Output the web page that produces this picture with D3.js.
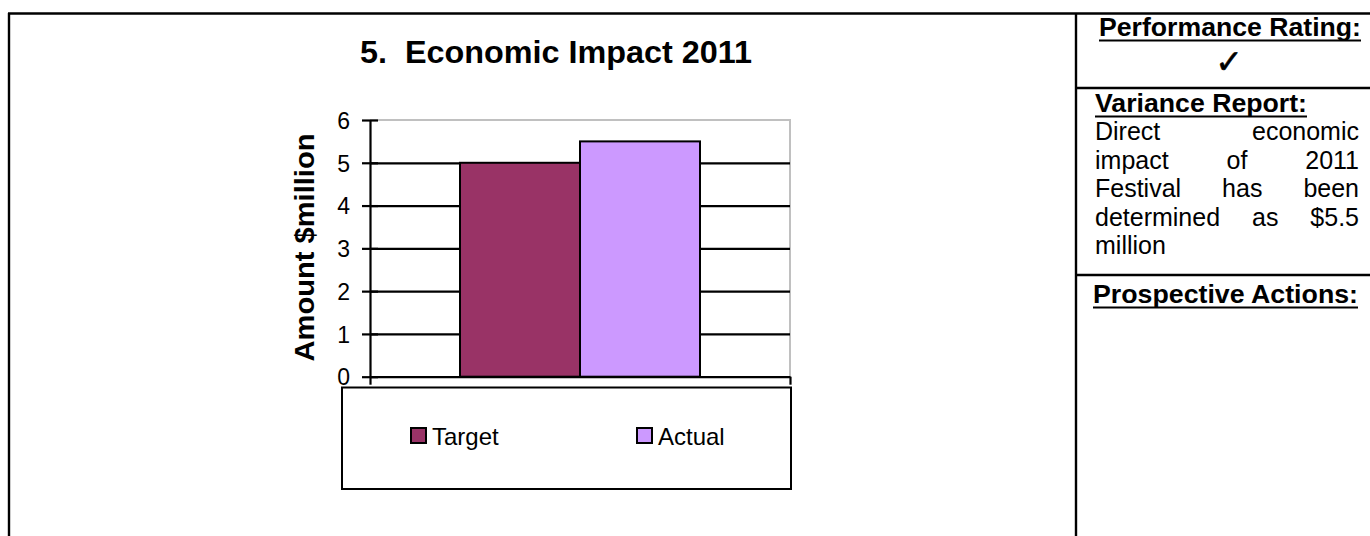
<!DOCTYPE html>
<html>
<head>
<meta charset="utf-8">
<script src="https://cdn.jsdelivr.net/npm/d3@7"></script>
<style>
  body { margin: 0; background: #fff; }
  text { font-family: "Liberation Sans", Arial, sans-serif; fill: #000; }
</style>
</head>
<body>
<div class="sheet"></div>
<script>
// chart data
var categories = ["2011"];
var seriesNames = ["Target", "Actual"];
var seriesValues = [5, 5.5];
var seriesColors = ["#993366", "#CC99FF"];
var yTicks = [0, 1, 2, 3, 4, 5, 6];

// side panel text
var ratingTitle = "Performance Rating:";
var ratingMark = "\u2713";
var varianceTitle = "Variance Report:";
var varianceLines = ["Direct economic", "impact of 2011", "Festival has been", "determined as $5.5", "million"];
var actionsTitle = "Prospective Actions:";

var svgWidth = 1370;
var svgHeight = 536;

var plot = { left: 370, right: 790, top: 120, bottom: 376.7 };

var svg = d3.select(".sheet")
    .append("svg")
    .attr("width", svgWidth)
    .attr("height", svgHeight);

svg.append("rect").attr("width", svgWidth).attr("height", svgHeight).attr("fill", "#fff");

// table frame
var frame = svg.append("g").attr("stroke", "#000").attr("stroke-width", 2.4);
frame.append("line").attr("x1", 8).attr("x2", svgWidth).attr("y1", 13.5).attr("y2", 13.5);
frame.append("line").attr("x1", 9).attr("x2", 9).attr("y1", 13).attr("y2", svgHeight);
frame.append("line").attr("x1", 1076).attr("x2", 1076).attr("y1", 13).attr("y2", svgHeight);
frame.append("line").attr("x1", 1076).attr("x2", svgWidth).attr("y1", 88).attr("y2", 88);
frame.append("line").attr("x1", 1076).attr("x2", svgWidth).attr("y1", 275).attr("y2", 275);

// title
svg.append("text")
    .attr("x", 360)
    .attr("y", 63)
    .attr("font-size", 31)
    .attr("font-weight", "bold")
    .attr("textLength", 392)
    .attr("lengthAdjust", "spacingAndGlyphs")
    .style("white-space", "pre")
    .text("5.  Economic Impact 2011");

// scales
var yScale = d3.scaleLinear().domain([0, 6]).range([plot.bottom, plot.top]);
var x0 = d3.scaleBand().domain(categories).range([plot.left, plot.right])
    .paddingInner(0).paddingOuter(0.375);
var x1 = d3.scaleBand().domain(seriesNames).range([0, x0.bandwidth()]);

// plot border (grey top and right)
svg.append("path")
    .attr("d", `M${plot.left},${plot.top}H${plot.right}V${plot.bottom}`)
    .attr("fill", "none")
    .attr("stroke", "#c0c0c0")
    .attr("stroke-width", 2);

// gridlines
var grid = svg.append("g")
    .attr("transform", `translate(${plot.left},0)`)
    .call(d3.axisLeft(yScale).tickValues([1, 2, 3, 4, 5]).tickSize(-(plot.right - plot.left)).tickFormat(""));
grid.select(".domain").remove();
grid.selectAll(".tick line").attr("stroke", "#000").attr("stroke-width", 2.2);

// bars
var barGroup = svg.append("g")
    .attr("transform", `translate(${x0(categories[0])},0)`);
barGroup.selectAll("rect")
    .data(seriesNames)
    .enter()
    .append("rect")
    .attr("x", d => x1(d))
    .attr("y", (d, i) => yScale(seriesValues[i]))
    .attr("width", x1.bandwidth())
    .attr("height", (d, i) => yScale(0) - yScale(seriesValues[i]))
    .attr("fill", (d, i) => seriesColors[i])
    .attr("stroke", "#000")
    .attr("stroke-width", 2);

// y axis
var yAxis = svg.append("g")
    .attr("transform", `translate(${plot.left},0)`)
    .call(d3.axisLeft(yScale).tickValues(yTicks).tickFormat(d3.format("d"))
        .tickSize(8).tickSizeOuter(0).tickPadding(12));
yAxis.attr("font-size", 23).attr("font-family", null);
yAxis.select(".domain").attr("stroke", "#000").attr("stroke-width", 2.2);
yAxis.selectAll(".tick line").attr("x1", 8).attr("stroke-width", 2.2);
yAxis.selectAll(".tick text")
    .attr("font-size", 23)
    .attr("dy", "0.36em")
    .attr("fill", "#000");

// x axis (category boundaries)
var xEdge = d3.scaleLinear().domain([0, 1]).range([plot.left, plot.right]);
var xAxis = svg.append("g")
    .attr("transform", `translate(0,${plot.bottom})`)
    .call(d3.axisBottom(xEdge).tickValues([0, 1]).tickFormat("").tickSize(8).tickSizeOuter(0));
xAxis.select(".domain").attr("stroke", "#000").attr("stroke-width", 2.2);
xAxis.selectAll(".tick line").attr("stroke-width", 2.2);

// y axis label
svg.append("text")
    .attr("transform", `translate(314, 247.5) rotate(-90)`)
    .attr("text-anchor", "middle")
    .attr("font-size", 27)
    .attr("font-weight", "bold")
    .attr("textLength", 228)
    .attr("lengthAdjust", "spacingAndGlyphs")
    .text("Amount $million");

// legend
var legend = svg.append("g");
legend.append("rect")
    .attr("x", 342).attr("y", 387.5)
    .attr("width", 449).attr("height", 101.5)
    .attr("fill", "#fff").attr("stroke", "#000").attr("stroke-width", 2);
var legendX = [411, 637];
var items = legend.selectAll("g.item")
    .data(seriesNames)
    .enter()
    .append("g")
    .attr("transform", (d, i) => `translate(${legendX[i]},428)`);
items.append("rect")
    .attr("width", 15).attr("height", 15)
    .attr("fill", (d, i) => seriesColors[i])
    .attr("stroke", "#000").attr("stroke-width", 2);
items.append("text")
    .attr("x", 21).attr("y", 17)
    .attr("font-size", 24)
    .text(d => d);

// side panel
var panelLeft = 1095;
var panelRight = 1359;

function heading(txt, x, y, len, anchor) {
    var t = svg.append("text")
        .attr("x", x)
        .attr("y", y)
        .attr("font-size", 26)
        .attr("font-weight", "bold")
        .attr("text-anchor", anchor)
        .attr("textLength", len)
        .attr("lengthAdjust", "spacingAndGlyphs")
        .text(txt);
    var start = anchor === "middle" ? x - len / 2 : x;
    svg.append("line")
        .attr("x1", start).attr("x2", start + len)
        .attr("y1", y + 4.5).attr("y2", y + 4.5)
        .attr("stroke", "#000").attr("stroke-width", 2.2);
}

heading(ratingTitle, 1230, 36, 262, "middle");
svg.append("text")
    .attr("x", 1229).attr("y", 73)
    .attr("text-anchor", "middle")
    .attr("font-size", 33)
    .attr("stroke", "#000")
    .attr("stroke-width", 0.6)
    .style("font-family", "'DejaVu Sans', sans-serif")
    .text(ratingMark);

heading(varianceTitle, panelLeft, 112, 212, "start");

varianceLines.forEach(function(line, i) {
    var y = 140 + i * 28.5;
    var words = line.split(" ");
    var g = svg.append("g");
    var nodes = words.map(w => g.append("text").attr("y", y).attr("font-size", 25).text(w));
    if (i === varianceLines.length - 1 || words.length === 1) {
        nodes[0].attr("x", panelLeft);
        return;
    }
    var widths = nodes.map(n => n.node().getComputedTextLength());
    var total = d3.sum(widths);
    var gap = (panelRight - panelLeft - total) / (words.length - 1);
    var x = panelLeft;
    nodes.forEach(function(n, j) {
        n.attr("x", x);
        x += widths[j] + gap;
    });
});

heading(actionsTitle, 1093, 303, 265, "start");
</script>
</body>
</html>
